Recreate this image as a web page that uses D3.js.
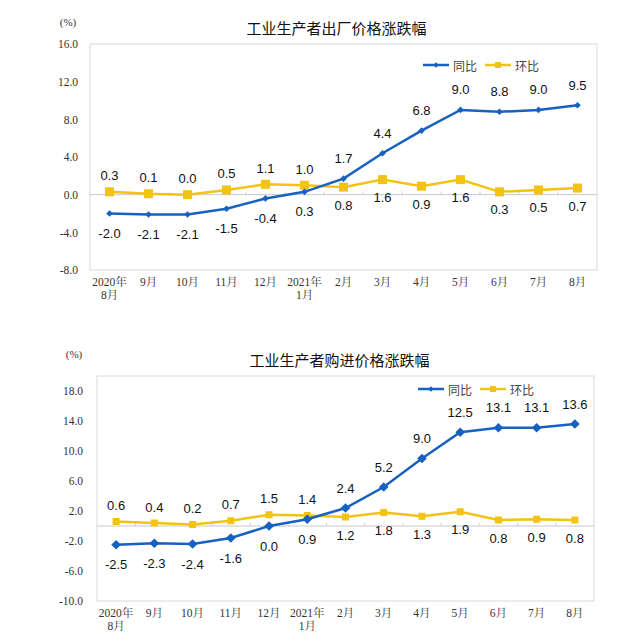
<!DOCTYPE html>
<html>
<head>
<meta charset="utf-8">
<script src="https://cdn.jsdelivr.net/npm/d3@7"></script>
<style>
html,body{margin:0;padding:0;background:#fff;}
svg{display:block;}
</style>
</head>
<body>
<svg id="chart" width="640" height="642"></svg>
<script>
// ---- data ----
const months = ["2020年\n8月","9月","10月","11月","12月","2021年\n1月","2月","3月","4月","5月","6月","7月","8月"];

const ppiTitle = "工业生产者出厂价格涨跌幅";
const ppiYoY = [-2.0,-2.1,-2.1,-1.5,-0.4,0.3,1.7,4.4,6.8,9.0,8.8,9.0,9.5];
const ppiMoM = [0.3,0.1,0.0,0.5,1.1,1.0,0.8,1.6,0.9,1.6,0.3,0.5,0.7];
const ppiTicks = [-8,-4,0,4,8,12,16];
const ppiDomain = [-8,16];

const pirmTitle = "工业生产者购进价格涨跌幅";
const pirmYoY = [-2.5,-2.3,-2.4,-1.6,0.0,0.9,2.4,5.2,9.0,12.5,13.1,13.1,13.6];
const pirmMoM = [0.6,0.4,0.2,0.7,1.5,1.4,1.2,1.8,1.3,1.9,0.8,0.9,0.8];
const pirmTicks = [-10,-6,-2,2,6,10,14,18];
const pirmDomain = [-10,20];

// label placement: 1 = above, -1 = below
const yoyLabelSide = [-1,-1,-1,-1,-1,-1,1,1,1,1,1,1,1];
const momLabelSide = [1,1,1,1,1,1,-1,-1,-1,-1,-1,-1,-1];

const seriesNames = ["同比","环比"];

// ---- drawing ----
const BLUE = "#1761c0";
const GOLD = "#f2c312";
const svg = d3.select("#chart");
const serif = "'Liberation Serif','Times New Roman','Noto Serif CJK SC','Noto Sans CJK SC',serif";
const sans = "'Liberation Sans',Arial,'Noto Sans CJK SC',sans-serif";
const fmt = d => (+d).toFixed(1);

function drawChart(cfg){
  const g = svg.append("g");
  const {left,right,top,bottom} = cfg.box;
  const x = d3.scaleBand().domain(d3.range(months.length)).range([left,right]);
  const cx = i => x(i) + x.bandwidth()/2;
  const y = d3.scaleLinear().domain(cfg.domain).range([bottom,top]);

  // plot border
  g.append("rect").attr("x",left).attr("y",top).attr("width",right-left).attr("height",bottom-top)
    .attr("fill","none").attr("stroke","#d9d9d9").attr("stroke-width",1);

  // zero line
  g.append("line").attr("x1",left).attr("x2",right).attr("y1",y(0)).attr("y2",y(0))
    .attr("stroke","#c8c8c8").attr("stroke-width",1);
  // small ticks on zero line at category boundaries
  g.selectAll(".zt").data(d3.range(1,months.length)).join("line")
    .attr("x1",i=>x(i)).attr("x2",i=>x(i)).attr("y1",y(0)).attr("y2",y(0)-3)
    .attr("stroke","#d0d0d0").attr("stroke-width",1);

  // y axis labels
  const yAxis = d3.axisLeft(y).tickValues(cfg.ticks).tickFormat(fmt).tickSize(0).tickPadding(cfg.ypad);
  const ya = g.append("g").attr("transform",`translate(${left},0)`).call(yAxis);
  ya.select(".domain").remove();
  ya.selectAll("text").attr("font-family",serif).attr("font-size",11.5).attr("fill","#333");

  // x axis labels
  const xl = g.append("g");
  months.forEach((m,i)=>{
    const lines = m.split("\n");
    const t = xl.append("text").attr("x",cx(i)).attr("y",bottom+16)
      .attr("text-anchor","middle").attr("font-family",serif).attr("font-size",11.5).attr("fill","#333");
    lines.forEach((ln,k)=>{
      t.append("tspan").attr("x",cx(i)).attr("dy",k===0?0:13).text(ln);
    });
  });

  // unit and title
  g.append("text").attr("x",cfg.unitX).attr("y",top-18).attr("text-anchor","middle")
    .attr("font-family",serif).attr("font-size",11).attr("fill","#333").text("(%)");
  g.append("text").attr("x",(left+right)/2+cfg.titleDx).attr("y",top-10).attr("text-anchor","middle")
    .attr("font-family","'Noto Sans CJK SC',sans-serif").attr("font-size",15).attr("fill","#111").text(cfg.title);

  const line = d3.line().x((d,i)=>cx(i)).y(d=>y(d));

  // MoM (yellow)
  g.append("path").datum(cfg.mom).attr("d",line).attr("fill","none").attr("stroke",GOLD).attr("stroke-width",2.5);
  g.selectAll(".sq").data(cfg.mom).join("rect")
    .attr("x",(d,i)=>cx(i)-cfg.sq/2).attr("y",d=>y(d)-cfg.sq/2).attr("width",cfg.sq).attr("height",cfg.sq)
    .attr("fill",GOLD);

  // YoY (blue)
  g.append("path").datum(cfg.yoy).attr("d",line).attr("fill","none").attr("stroke",BLUE).attr("stroke-width",2.5);
  const dia = d3.symbol().type(d3.symbolDiamond2).size(cfg.dia);
  g.selectAll(".dm").data(cfg.yoy).join("path")
    .attr("d",dia).attr("transform",(d,i)=>`translate(${cx(i)},${y(d)})`).attr("fill",BLUE);

  // data labels
  const lab = (arr,sides,upOff,downOff)=>{
    g.selectAll(null).data(arr).join("text")
      .attr("x",(d,i)=>cx(i))
      .attr("y",(d,i)=> y(d) + (sides[i]>0 ? -upOff : downOff))
      .attr("text-anchor","middle").attr("dominant-baseline","central")
      .attr("font-family",sans).attr("font-size",13).attr("fill","#111")
      .text(fmt);
  };
  lab(cfg.yoy,yoyLabelSide,20,20);
  lab(cfg.mom,momLabelSide,16,18);

  // legend
  const lg = g.append("g").attr("transform",`translate(${cfg.legX},${cfg.legY})`);
  lg.append("line").attr("x1",0).attr("x2",26).attr("stroke",BLUE).attr("stroke-width",2.5);
  lg.append("path").attr("d",d3.symbol().type(d3.symbolDiamond2).size(18)).attr("transform","translate(13,0)").attr("fill",BLUE);
  lg.append("text").attr("x",30).attr("y",0).attr("dominant-baseline","central")
    .attr("font-family","'Noto Sans CJK SC',sans-serif").attr("font-size",12).attr("fill","#444").text(seriesNames[0]);
  lg.append("line").attr("x1",62).attr("x2",88).attr("stroke",GOLD).attr("stroke-width",2.5);
  lg.append("rect").attr("x",72).attr("y",-3).attr("width",6).attr("height",6).attr("fill",GOLD);
  lg.append("text").attr("x",92).attr("y",0).attr("dominant-baseline","central")
    .attr("font-family","'Noto Sans CJK SC',sans-serif").attr("font-size",12).attr("fill","#444").text(seriesNames[1]);
}

drawChart({
  title: ppiTitle, yoy: ppiYoY, mom: ppiMoM, ticks: ppiTicks, domain: ppiDomain,
  box:{left:90,right:597,top:44,bottom:270}, ypad:12, unitX:68, titleDx:-7,
  sq:9, dia:28, legX:423, legY:65
});
drawChart({
  title: pirmTitle, yoy: pirmYoY, mom: pirmMoM, ticks: pirmTicks, domain: pirmDomain,
  box:{left:97,right:594,top:376,bottom:601}, ypad:14, unitX:74, titleDx:-6,
  sq:7, dia:60, legX:418, legY:389
});
</script>
</body>
</html>
